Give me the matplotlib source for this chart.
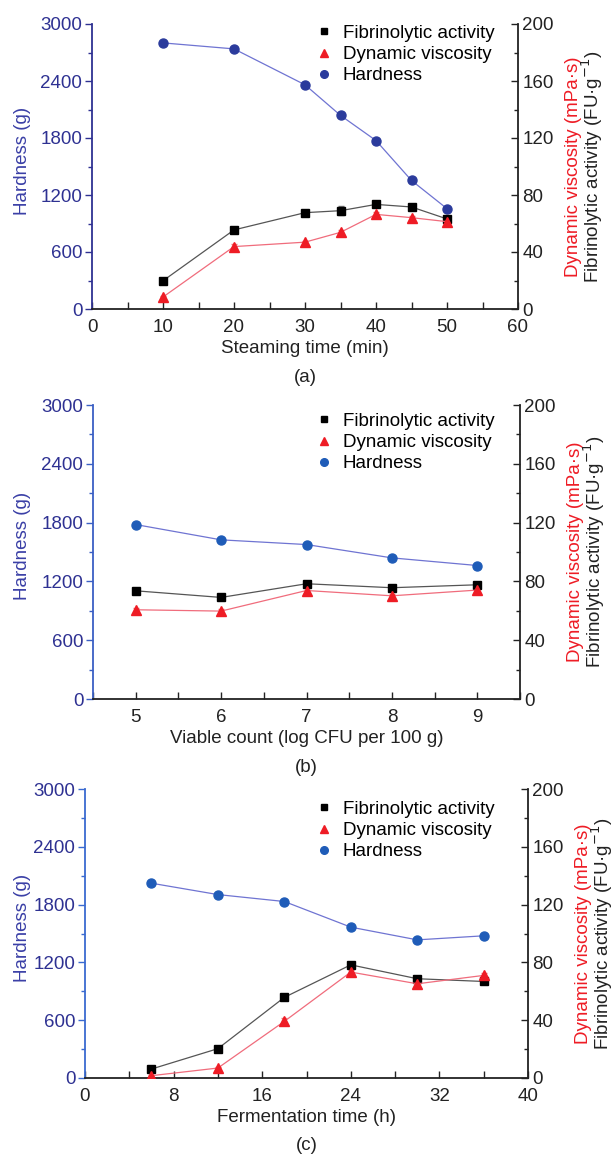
import numpy as np
import matplotlib
matplotlib.use("Agg")
import matplotlib.pyplot as plt
from matplotlib.lines import Line2D
from matplotlib.ticker import MultipleLocator

plt.rcParams['font.family'] = ['Liberation Sans', 'DejaVu Sans']
plt.rcParams['font.size'] = 13

# data
steam_time = [10, 20, 30, 35, 40, 45, 50]
steam_hardness = [2801, 2738, 2360, 2038, 1773, 1353, 1056]
steam_fibrin = [19.8, 55.5, 67.6, 69.0, 73.4, 71.6, 63.2]
steam_fibrin_err = [1.0, 1.0, 1.5, 3.0, 1.5, 1.0, 1.5]
steam_visc = [8.4, 43.8, 46.9, 53.8, 66.4, 64.1, 61.3]
steam_visc_err = [1.0, 1.5, 1.0, 1.5, 1.5, 1.0, 1.5]

viable = [5, 6, 7, 8, 9]
viable_hardness = [1780, 1624, 1576, 1440, 1362]
viable_fibrin = [73.6, 69.1, 78.4, 75.7, 77.7]
viable_fibrin_err = [1.0, 1.0, 1.5, 1.0, 1.5]
viable_visc = [60.7, 59.8, 73.8, 70.2, 74.1]
viable_visc_err = [1.5, 1.5, 1.5, 1.5, 1.5]

ferm_time = [6, 12, 18, 24, 30, 36]
ferm_hardness = [2022, 1904, 1832, 1566, 1434, 1476]
ferm_fibrin = [6.2, 20.3, 55.8, 78.3, 68.7, 66.8]
ferm_fibrin_err = [1.0, 1.0, 1.0, 1.5, 1.5, 1.0]
ferm_visc = [1.6, 6.9, 39.2, 73.3, 65.2, 71.0]
ferm_visc_err = [0.5, 1.0, 2.5, 1.5, 1.5, 1.5]

navy = '#2e3192'
W, H = 615, 1155

panels = [
    dict(x=steam_time, hard=steam_hardness, fib=steam_fibrin, fibe=steam_fibrin_err,
         vis=steam_visc, vise=steam_visc_err, xlim=(0, 60), major=10, minor=5,
         xlabel='Steaming time (min)', tag='(a)', box=(92, 24, 518, 309),
         hcol='#2b3b9c', spine=navy, leg_top=21),
    dict(x=viable, hard=viable_hardness, fib=viable_fibrin, fibe=viable_fibrin_err,
         vis=viable_visc, vise=viable_visc_err, xlim=(4.5, 9.5), major=1, minor=0.5,
         xlabel='Viable count (log CFU per 100 g)', tag='(b)', box=(93, 405, 520, 699),
         hcol='#1f5cb8', spine='#3a5fc4', leg_top=409),
    dict(x=ferm_time, hard=ferm_hardness, fib=ferm_fibrin, fibe=ferm_fibrin_err,
         vis=ferm_visc, vise=ferm_visc_err, xlim=(0, 40), major=8, minor=4,
         xlabel='Fermentation time (h)', tag='(c)', box=(85, 789, 528, 1078),
         hcol='#1f5cb8', spine='#3a6ad0', leg_top=797),
]

fig = plt.figure(figsize=(6.15, 11.55), dpi=100)

for p in panels:
    x0, y0, x1, y1 = p['box']
    ax = fig.add_axes([x0 / W, 1 - y1 / H, (x1 - x0) / W, (y1 - y0) / H])
    ax2 = ax.twinx()

    ax.plot(p['x'], p['hard'], color='#6f74d2', lw=0.9, marker='o', ms=6.5,
            mfc=p['hcol'], mec=p['hcol'], zorder=3)
    ax2.errorbar(p['x'], p['fib'], yerr=p['fibe'], color='#555555', lw=0.9,
                 marker='s', ms=6, mfc='black', mec='black', ecolor='#777777',
                 elinewidth=0.8, capsize=2.5, zorder=3)
    ax2.errorbar(p['x'], p['vis'], yerr=p['vise'], color='#f06c7c', lw=0.9,
                 marker='^', ms=7, mfc='#ee1c25', mec='#ee1c25', ecolor='#f08080',
                 elinewidth=0.8, capsize=2.5, zorder=3)

    ax.set_xlim(*p['xlim'])
    ax.set_ylim(0, 3000)
    ax2.set_ylim(0, 200)
    ax.xaxis.set_major_locator(MultipleLocator(p['major']))
    ax.xaxis.set_minor_locator(MultipleLocator(p['minor']))
    ax.yaxis.set_major_locator(MultipleLocator(600))
    ax.yaxis.set_minor_locator(MultipleLocator(300))
    ax2.yaxis.set_major_locator(MultipleLocator(40))
    ax2.yaxis.set_minor_locator(MultipleLocator(20))

    for a in (ax, ax2):
        a.spines['top'].set_visible(False)
    ax.spines['right'].set_visible(False)
    ax.spines['left'].set_color(p['spine'])
    ax.spines['left'].set_linewidth(1.3)
    ax.spines['bottom'].set_color('#222222')
    ax.spines['bottom'].set_linewidth(1.3)
    ax2.spines['left'].set_visible(False)
    ax2.spines['bottom'].set_visible(False)
    ax2.spines['right'].set_color('#222222')
    ax2.spines['right'].set_linewidth(1.3)

    ax.tick_params(axis='y', which='both', direction='out', colors=p['spine'],
                   labelcolor=navy, labelsize=13.5, pad=2)
    ax.tick_params(axis='y', which='major', length=5, width=1)
    ax.tick_params(axis='y', which='minor', length=3, width=1)
    ax.tick_params(axis='x', which='both', direction='in', colors='#222222',
                   labelcolor='#222222', labelsize=13.5, pad=7)
    ax.tick_params(axis='x', which='major', length=5, width=1)
    ax.tick_params(axis='x', which='minor', length=5, width=1)
    ax2.tick_params(axis='y', which='both', direction='in', colors='#222222',
                    labelsize=13.5, pad=3)
    ax2.tick_params(axis='y', which='major', length=5, width=1)
    ax2.tick_params(axis='y', which='minor', length=3, width=1)

    ax.set_ylabel('Hardness (g)', color='#3a3fa6', fontsize=13.5)
    ax.yaxis.set_label_coords((31 - x0) / (x1 - x0), 0.52)
    ax.set_xlabel(p['xlabel'], fontsize=13.5, color='#222222', labelpad=3)

    # two stacked right axis titles
    ymid = 1 - (y0 + y1) / 2 / H
    fig.text((x1 + 55) / W, ymid, 'Dynamic viscosity (mPa·s)', color='#ee1c25',
             rotation=90, ha='center', va='center', fontsize=13.5)
    fig.text((x1 + 74) / W, ymid, 'Fibrinolytic activity (FU·g$^{-1}$)', color='#222222',
             rotation=90, ha='center', va='center', fontsize=13.5)
    fig.text((x0 + x1) / 2 / W, 1 - (y1 + 68) / H, p['tag'], ha='center', va='center',
             fontsize=13.5, color='#222222')

    handles = [
        Line2D([], [], ls='none', marker='s', ms=5, mfc='black', mec='black'),
        Line2D([], [], ls='none', marker='^', ms=6, mfc='#ee1c25', mec='#ee1c25'),
        Line2D([], [], ls='none', marker='o', ms=5.5, mfc=p['hcol'], mec=p['hcol']),
    ]
    ax2.legend(handles, ['Fibrinolytic activity', 'Dynamic viscosity', 'Hardness'],
               loc='upper left',
               bbox_to_anchor=((313 - x0) / (x1 - x0), (y1 - p['leg_top']) / (y1 - y0)),
               frameon=False, fontsize=13.5, handlelength=0.8, handletextpad=0.6,
               labelspacing=0.22, borderpad=0.2, borderaxespad=0)

fig.savefig('out.png', dpi=100)
